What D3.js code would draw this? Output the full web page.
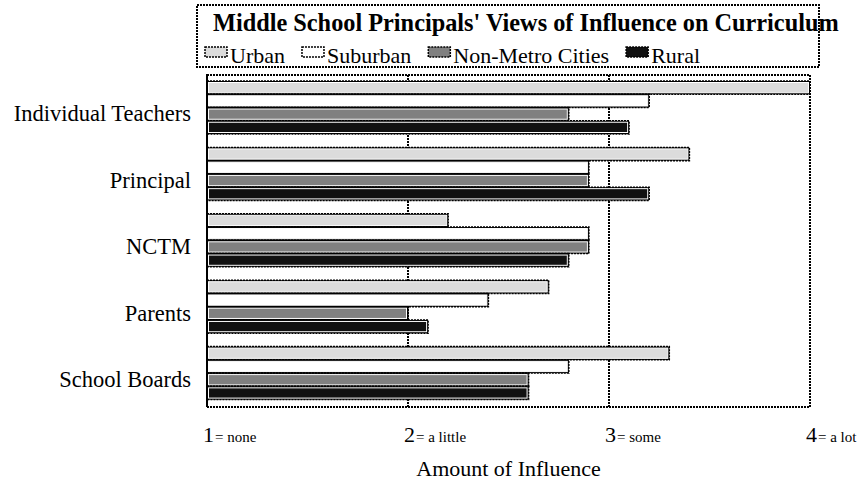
<!DOCTYPE html>
<html>
<head>
<meta charset="utf-8">
<style>
  body { margin: 0; background: #fff; }
  svg text { font-family: "Liberation Serif", "Times New Roman", serif; fill: #000; }
  .dot { fill: none; stroke: #000; stroke-width: 2; stroke-dasharray: 2,1; }
</style>
</head>
<body>
<svg id="chart" width="867" height="485"></svg>
<script src="https://d3js.org/d3.v7.min.js"></script>
<script>
// values (1 = none ... 4 = a lot)
var categories = ["Individual Teachers", "Principal", "NCTM", "Parents", "School Boards"];
var seriesNames = ["Urban", "Suburban", "Non-Metro Cities", "Rural"];
var urban    = [4.0, 3.4, 2.2, 2.7, 3.3];
var suburban = [3.2, 2.9, 2.9, 2.4, 2.8];
var nonMetro = [2.8, 2.9, 2.9, 2.0, 2.6];
var rural    = [3.1, 3.2, 2.8, 2.1, 2.6];
var tickValues = [1, 2, 3, 4];
var tickNotes = ["= none", "= a little", "= some", "= a lot"];
var colors = ["#dcdcdc", "#ffffff", "#808080", "#111111"];

var seriesValues = [urban, suburban, nonMetro, rural];

var svg = d3.select("#chart");
var plotLeft = 207, plotRight = 810, plotTop = 75, plotBottom = 407;

var x = d3.scaleLinear().domain([1, 4]).range([plotLeft, plotRight]);
var y = d3.scaleBand().domain(categories).range([plotTop, plotBottom]);
var ySub = d3.scaleBand().domain(seriesNames).range([6, 59]);

// grid lines at the inner ticks
svg.append("g").selectAll("line")
    .data([2, 3])
    .enter().append("line")
    .attr("class", "dot")
    .attr("x1", d => x(d)).attr("x2", d => x(d))
    .attr("y1", plotTop).attr("y2", plotBottom);

// bars
var rows = [];
categories.forEach(function(c, i) {
    seriesNames.forEach(function(s, j) {
        rows.push({cat: c, series: s, value: seriesValues[j][i], color: colors[j]});
    });
});

var bar = svg.append("g").selectAll("g")
    .data(rows)
    .enter().append("g");

bar.append("rect")
    .attr("x", x(1))
    .attr("y", d => y(d.cat) + ySub(d.series))
    .attr("width", d => x(d.value) - x(1))
    .attr("height", ySub.bandwidth())
    .attr("fill", "#000")
    .attr("stroke", "#000")
    .attr("stroke-width", 1.5)
    .attr("stroke-dasharray", "2,1");

bar.append("rect")
    .attr("x", x(1) + 1.5)
    .attr("y", d => y(d.cat) + ySub(d.series) + 1.5)
    .attr("width", d => Math.max(0, x(d.value) - x(1) - 3))
    .attr("height", ySub.bandwidth() - 3)
    .attr("fill", d => d.color)
    .attr("stroke", "#fff")
    .attr("stroke-width", 1);

// plot frame
svg.append("rect")
    .attr("class", "dot")
    .attr("x", plotLeft).attr("y", plotTop)
    .attr("width", plotRight - plotLeft).attr("height", plotBottom - plotTop);
svg.append("line")
    .attr("x1", plotLeft).attr("x2", plotLeft)
    .attr("y1", plotTop).attr("y2", plotBottom)
    .attr("stroke", "#000").attr("stroke-width", 2);

// category labels
svg.append("g").selectAll("text")
    .data(categories)
    .enter().append("text")
    .attr("x", 191)
    .attr("y", d => y(d) + y.bandwidth() * 0.62)
    .attr("dominant-baseline", "middle")
    .attr("text-anchor", "end")
    .style("font-size", "22.5px")
    .text(d => d);

// x tick labels: big digit + small note
var tick = svg.append("g").selectAll("text")
    .data(tickValues)
    .enter().append("text")
    .attr("x", d => x(d) - 4)
    .attr("y", 442);
tick.append("tspan").style("font-size", "22px").text(d => d);
tick.append("tspan").attr("dx", 1).style("font-size", "15px").text((d, i) => tickNotes[i]);

svg.append("text")
    .attr("x", (plotLeft + plotRight) / 2)
    .attr("y", 476)
    .attr("text-anchor", "middle")
    .style("font-size", "22px")
    .text("Amount of Influence");

// title / legend box
svg.append("rect")
    .attr("class", "dot")
    .attr("x", 197).attr("y", 5)
    .attr("width", 622).attr("height", 62)
    .attr("fill", "#fff");

svg.append("text")
    .attr("x", 213).attr("y", 31)
    .style("font-size", "24.3px").style("font-weight", "bold")
    .text("Middle School Principals' Views of Influence on Curriculum");

var lx = 205;
seriesNames.forEach(function(s, j) {
    svg.append("rect")
        .attr("x", lx).attr("y", 47)
        .attr("width", 22).attr("height", 10)
        .attr("fill", colors[j])
        .attr("stroke", "#000").attr("stroke-width", 1.5)
        .attr("stroke-dasharray", "2,1");
    var t = svg.append("text")
        .attr("x", lx + 25).attr("y", 63)
        .style("font-size", "22px")
        .text(s);
    lx = lx + 25 + t.node().getComputedTextLength() + 17;
});
</script>
</body>
</html>
